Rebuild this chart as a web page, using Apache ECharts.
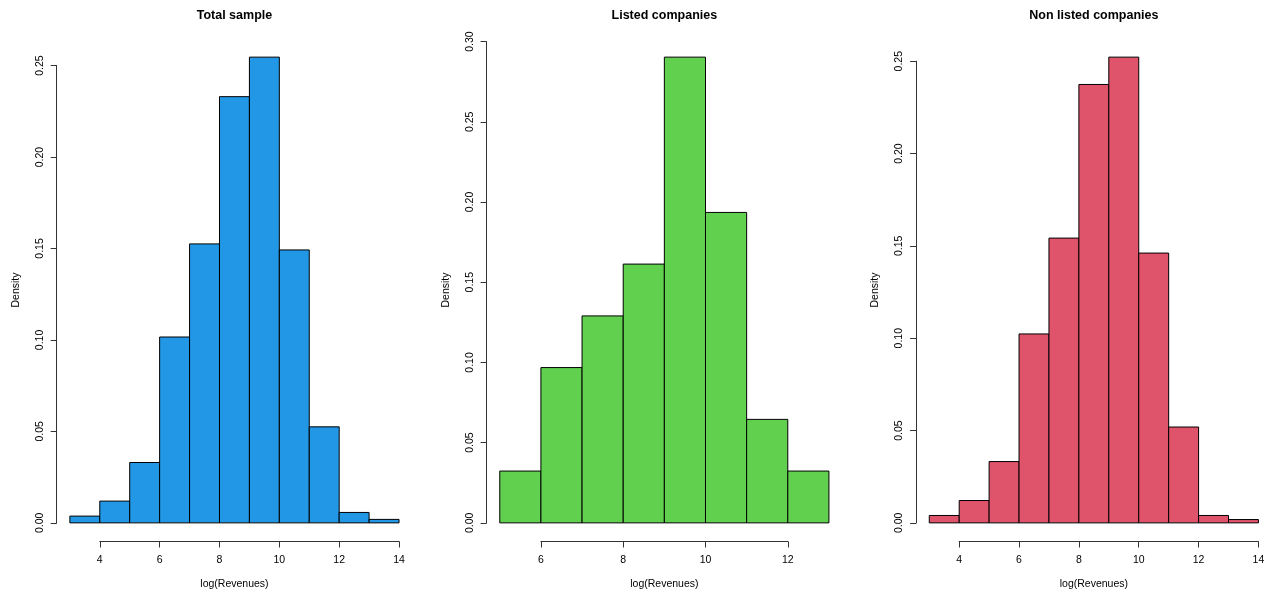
<!DOCTYPE html>
<html><head><meta charset="utf-8">
<script src="https://cdn.jsdelivr.net/npm/echarts@6/dist/echarts.min.js"></script>
<style>html,body{margin:0;padding:0;background:#fff}#c{width:1275px;height:594px}</style>
</head><body><div id="c"></div>
<script>
// ---- data ----
const titles = ['Total sample', 'Listed companies', 'Non listed companies'];
const xAxisTitle = 'log(Revenues)';
const yAxisTitle = 'Density';
const colors = ['#2297E6', '#61D04F', '#DF536B'];

const breaksTotal = [3, 4, 5, 6, 7, 8, 9, 10, 11, 12, 13, 14];
const densityTotal = [0.0037, 0.0119, 0.0330, 0.1016, 0.1525, 0.2330, 0.2546, 0.1492, 0.0525, 0.0057, 0.0019];

const breaksListed = [5, 6, 7, 8, 9, 10, 11, 12, 13];
const densityListed = [0.0323, 0.0968, 0.1290, 0.1613, 0.2903, 0.1935, 0.0645, 0.0323];

const breaksNonListed = [3, 4, 5, 6, 7, 8, 9, 10, 11, 12, 13, 14];
const densityNonListed = [0.0040, 0.0121, 0.0332, 0.1023, 0.1542, 0.2374, 0.2522, 0.1461, 0.0519, 0.0040, 0.0018];

const xTickRanges = [[4, 14], [6, 12], [4, 14]];
const xTickStep = 2;
const yTickTops = [0.25, 0.30, 0.25];
const yTickStep = 0.05;

// ---- layout ----
const plotLeft = [56.7, 486.6, 916.1];
const plotW = 355.5;
const plotTop = 38.5;
const plotH = 503;
const FONT = '"Liberation Sans", Arial, sans-serif';

const panels = [
  {breaks: breaksTotal, dens: densityTotal},
  {breaks: breaksListed, dens: densityListed},
  {breaks: breaksNonListed, dens: densityNonListed}
];

const grid = [], xAxis = [], yAxis = [], series = [], graphic = [];

panels.forEach((p, i) => {
  const b0 = p.breaks[0], b1 = p.breaks[p.breaks.length - 1];
  const xr = b1 - b0;
  const xmin = b0 - 0.04 * xr, xmax = b1 + 0.04 * xr;
  const ymaxData = Math.max(...p.dens);
  const ymin = -0.04 * ymaxData, ymax = 1.04 * ymaxData;
  const L = plotLeft[i];
  const px = v => L + (v - xmin) / (xmax - xmin) * plotW;
  const py = v => plotTop + (ymax - v) / (ymax - ymin) * plotH;

  // main plot grid (bars)
  const gMain = grid.length;
  grid.push({left: L, top: plotTop, width: plotW, height: plotH, containLabel: false});
  xAxis.push({gridIndex: gMain, type: 'value', min: xmin, max: xmax, show: false});
  yAxis.push({gridIndex: gMain, type: 'value', min: ymin, max: ymax, show: false});
  const data = p.dens.map((d, k) => [p.breaks[k], p.breaks[k + 1], d]);
  const col = colors[i];
  series.push({
    type: 'custom', xAxisIndex: gMain, yAxisIndex: gMain,
    encode: {x: [0, 1], y: 2},
    data: data,
    renderItem: (params, api) => {
      const a = api.coord([api.value(0), api.value(2)]);
      const c = api.coord([api.value(1), 0]);
      return {type: 'rect', shape: {x: a[0], y: a[1], width: c[0] - a[0], height: c[1] - a[1]},
        style: {fill: col, stroke: '#000', lineWidth: 1}};
    },
    silent: true
  });

  // x axis (drawn from first to last tick, at bottom of plot region)
  const [xl, xh] = xTickRanges[i];
  const gx = grid.length;
  grid.push({left: px(xl), width: px(xh) - px(xl), top: plotTop + plotH - 1, height: 1, containLabel: false});
  xAxis.push({gridIndex: gx, type: 'value', min: xl, max: xh, interval: xTickStep, position: 'bottom',
    axisLine: {show: true, onZero: false, lineStyle: {color: '#333', width: 1}},
    axisTick: {show: true, length: 6, inside: false, lineStyle: {color: '#333', width: 1}},
    axisLabel: {show: true, margin: 13.5, fontSize: 10.5, color: '#000', fontFamily: FONT, showMinLabel: true, showMaxLabel: true},
    splitLine: {show: false}});
  yAxis.push({gridIndex: gx, type: 'value', min: 0, max: 1, show: false});

  // y axis (drawn from 0 to top tick, at left of plot region)
  const yt = yTickTops[i];
  const gy = grid.length;
  grid.push({left: L, width: 1, top: py(yt), height: py(0) - py(yt), containLabel: false});
  xAxis.push({gridIndex: gy, type: 'value', min: 0, max: 1, show: false});
  yAxis.push({gridIndex: gy, type: 'value', min: 0, max: yt, interval: yTickStep, position: 'left',
    axisLine: {show: true, onZero: false, lineStyle: {color: '#333', width: 1}},
    axisTick: {show: true, length: 6, inside: false, lineStyle: {color: '#333', width: 1}},
    axisLabel: {show: true, rotate: 90, margin: 11, fontSize: 10.5, color: '#000', fontFamily: FONT,
      showMinLabel: true, showMaxLabel: true, formatter: v => v.toFixed(2)},
    splitLine: {show: false}});

  // titles / axis titles
  const cx = L + plotW / 2;
  graphic.push({type: 'text', x: cx, y: 15.5, style: {text: titles[i], fill: '#000',
    font: 'bold 12.5px ' + FONT, textAlign: 'center', textVerticalAlign: 'middle'}});
  graphic.push({type: 'text', x: cx, y: 584.5, style: {text: xAxisTitle, fill: '#000',
    font: '10.5px ' + FONT, textAlign: 'center', textVerticalAlign: 'middle'}});
  graphic.push({type: 'text', x: L - 40.5, y: plotTop + plotH / 2, rotation: Math.PI / 2,
    style: {text: yAxisTitle, fill: '#000', font: '10.5px ' + FONT, textAlign: 'center', textVerticalAlign: 'middle'}});
});

const chart = echarts.init(document.getElementById('c'), null, {renderer: 'canvas'});
chart.setOption({
  animation: false,
  backgroundColor: '#fff',
  grid, xAxis, yAxis, series, graphic
});
</script>
</body></html>
